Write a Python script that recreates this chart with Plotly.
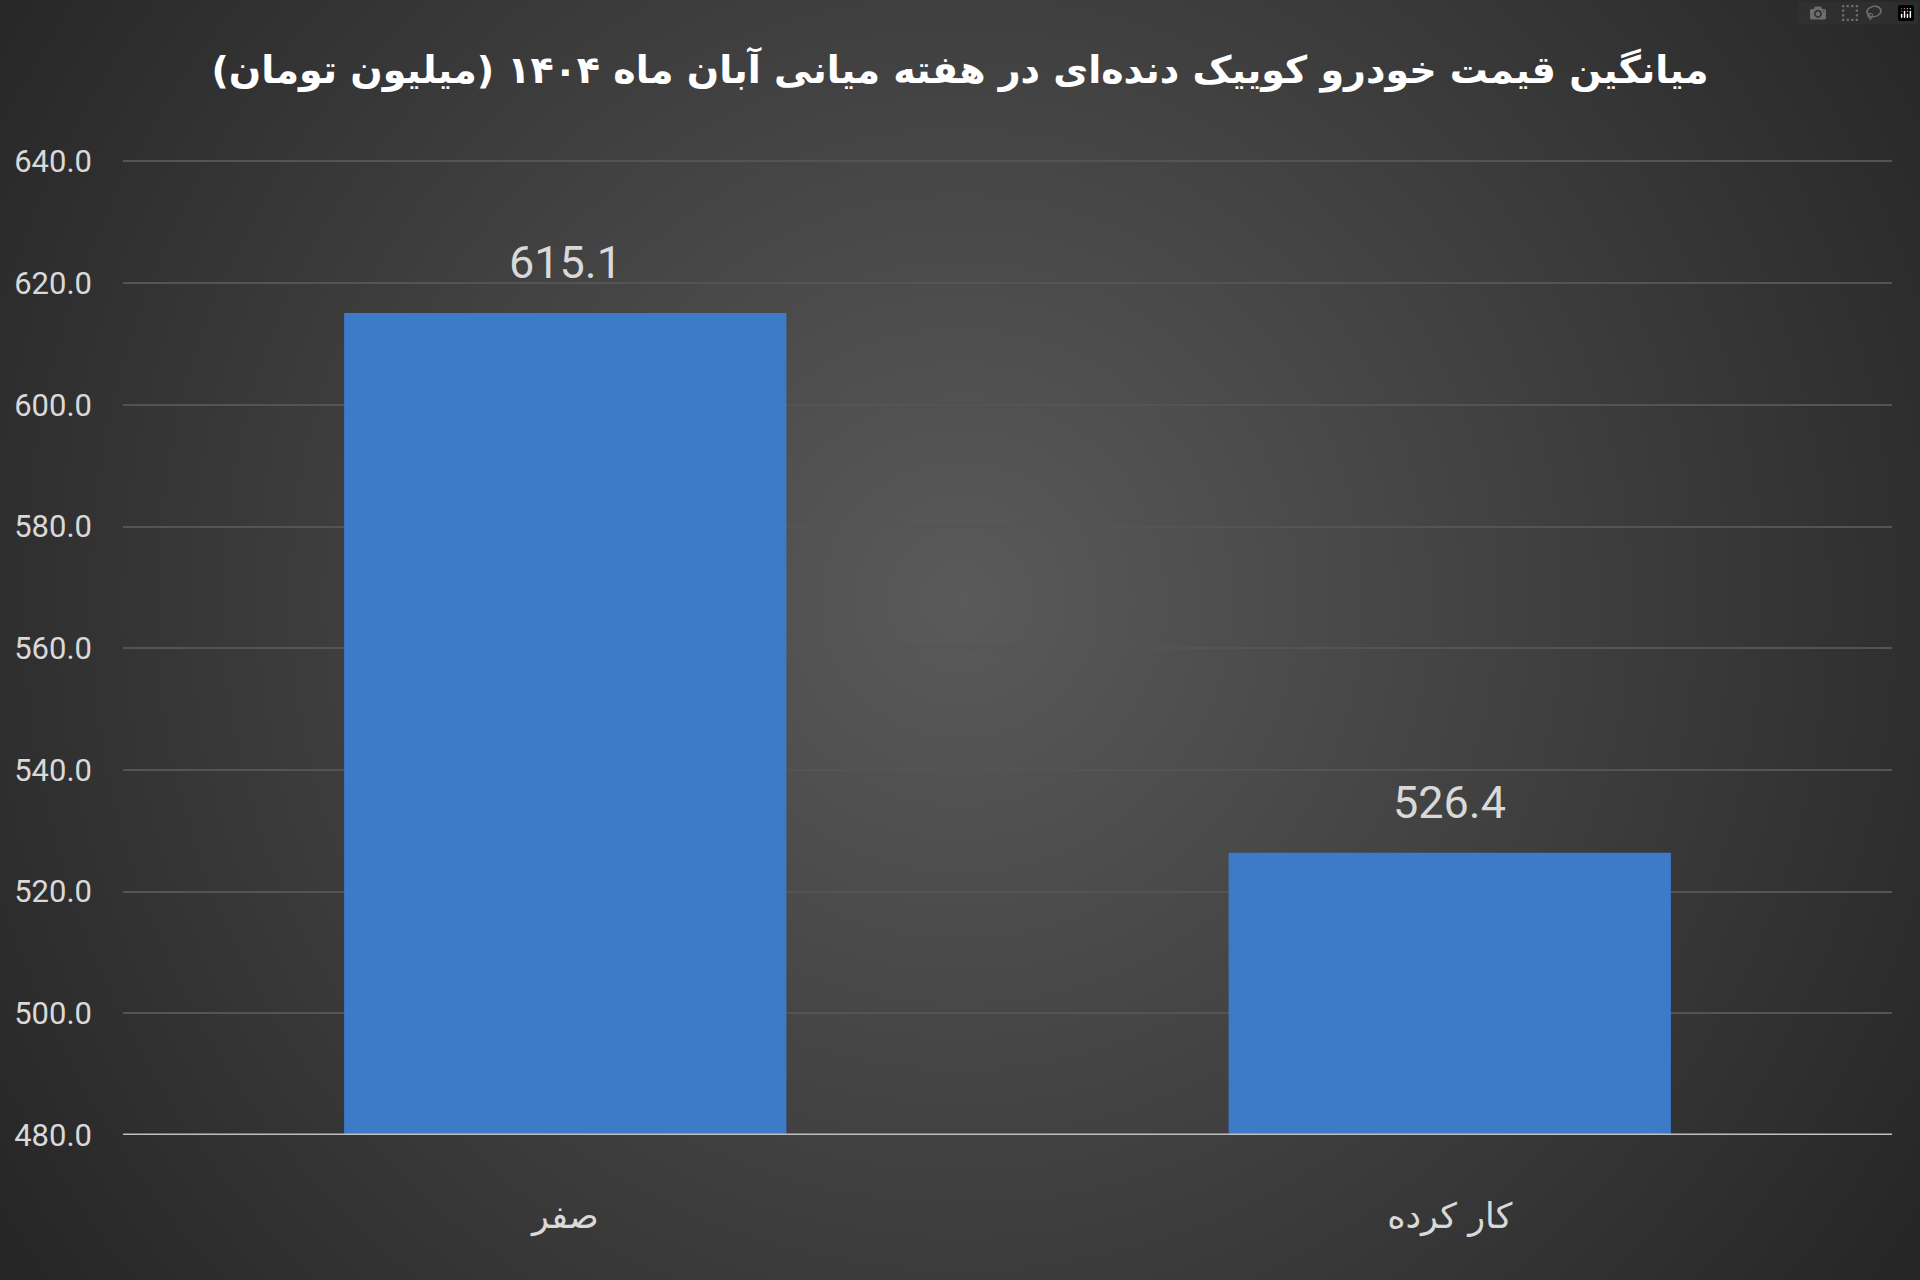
import base64
import plotly.graph_objects as go

# Data
categories = ['صفر', 'کار کرده']
prices = [615.1, 526.4]
tick_vals = [480, 500, 520, 540, 560, 580, 600, 620, 640]
title_text = 'میانگین قیمت خودرو کوییک دنده‌ای در هفته میانی آبان ماه ۱۴۰۴ (میلیون تومان)'

# radial background (styling only)
svg = ("<svg xmlns='http://www.w3.org/2000/svg' width='1920' height='1280'>"
       "<defs><radialGradient id='g' gradientUnits='userSpaceOnUse' cx='960' cy='600' r='1150'>"
       "<stop offset='0' stop-color='#5a5a5a'/><stop offset='1' stop-color='#262626'/>"
       "</radialGradient></defs><rect width='1920' height='1280' fill='url(#g)'/></svg>")
bg_src = 'data:image/svg+xml;base64,' + base64.b64encode(svg.encode()).decode()

num_font = 'Roboto, sans-serif'
fa_font = 'DejaVu Sans, sans-serif'

fig = go.Figure(go.Bar(x=categories, y=prices,
                       marker=dict(color='#3d7bc9', line=dict(width=0)),
                       hoverinfo='skip'))

# value labels above bars
for c, v in zip(categories, prices):
    fig.add_annotation(x=c, y=v, text=f'{v:.1f}', showarrow=False,
                       yanchor='bottom', yshift=22,
                       font=dict(family=num_font, size=45, color='#d9d9d9'))

fig.update_layout(
    width=1920, height=1280,
    margin=dict(l=0, r=0, t=0, b=0),
    paper_bgcolor='#333333',
    plot_bgcolor='rgba(0,0,0,0)',
    images=[dict(source=bg_src, xref='paper', yref='paper', x=0, y=1,
                 sizex=1, sizey=1, sizing='stretch', layer='below')],
    title=dict(text=title_text, x=0.5, xanchor='center', y=1 - 70 / 1280, yanchor='middle',
               font=dict(family=fa_font, size=38, color='#ffffff', weight='bold')),
    bargap=0.5,
    showlegend=False,
    xaxis=dict(domain=[123 / 1920, 1892 / 1920], showgrid=False, ticks='',
               tickfont=dict(family=fa_font, size=35, color='#d9d9d9'),
               ticklabelstandoff=57, showline=False, automargin=False,
               fixedrange=True),
    yaxis=dict(domain=[1 - 1135 / 1280, 1 - 159 / 1280], range=[480, 640.4],
               tickvals=tick_vals, tickformat='.1f',
               tickfont=dict(family=num_font, size=31, color='#d9d9d9'),
               gridcolor='#545454', gridwidth=2, zeroline=False,
               ticklabelstandoff=30, automargin=False, fixedrange=True),
)

# baseline
fig.add_hline(y=480, line=dict(color='#bfbfbf', width=3))

fig.write_html('out.html', post_script="document.body.style.margin='0';")
